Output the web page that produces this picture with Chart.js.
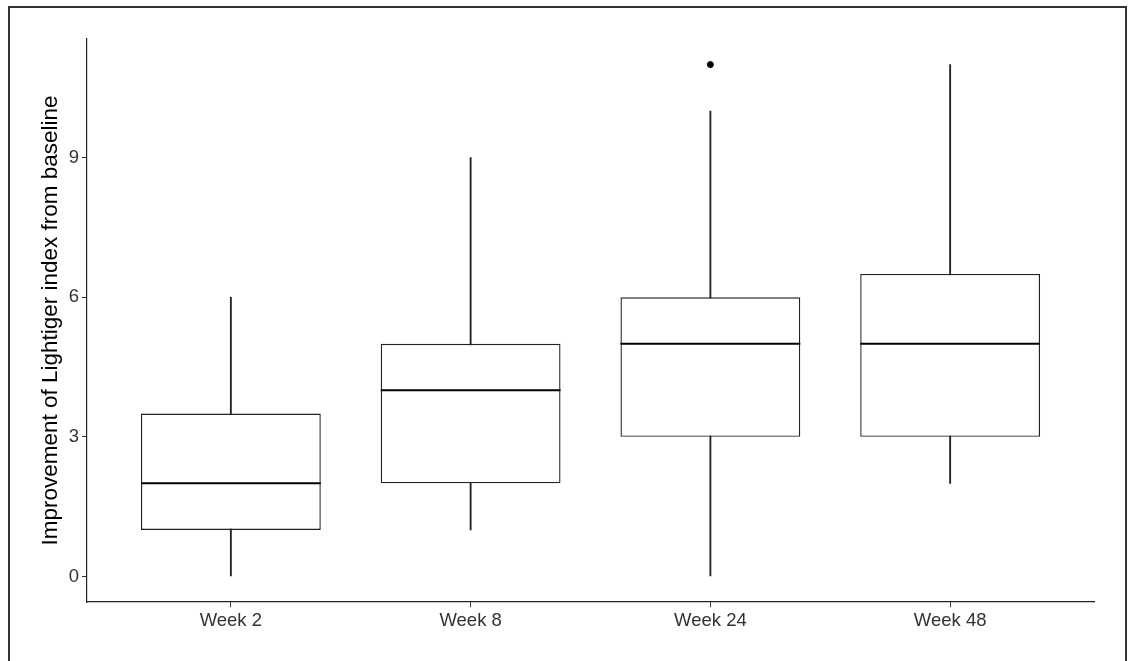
<!DOCTYPE html>
<html lang="en">

<head>
    <meta charset="UTF-8">
    <title>Lightiger index - boxplot</title>
    <script src="https://cdn.jsdelivr.net/npm/chart.js"></script>
    <style>
        body { margin: 0; background: #fff; }
        .quadro { position: relative; width: 1132px; height: 661px; overflow: hidden; }
        .moldura { position: absolute; left: 8px; top: 6px; width: 1115px; height: 700px; border: 2px solid #333; pointer-events: none; }
    </style>
</head>

<body>
    <div class="quadro">
        <canvas id="grafico" width="1132" height="661"></canvas>
        <div class="moldura"></div>
    </div>

<script>
// data
const categories = ['Week 2', 'Week 8', 'Week 24', 'Week 48'];
const whiskerLow = [0, 1, 0, 2];
const q1 = [1, 2, 3, 3];
const median = [2, 4, 5, 5];
const q3 = [3.5, 5, 6, 6.5];
const whiskerHigh = [6, 9, 10, 11];
const outlierPos = [3];      // category index (1-based)
const outlierVal = [11];
const yTicks = [0, 3, 6, 9];

const fonte = "'Liberation Sans', Arial, sans-serif";

// median line, drawn over the boxes
const medianas = {
    id: 'medianas',
    afterDatasetsDraw(chart) {
        const ctx = chart.ctx;
        const x = chart.scales.x, y = chart.scales.y;
        const caixas = chart.getDatasetMeta(1).data;
        ctx.save();
        ctx.strokeStyle = '#000';
        ctx.lineWidth = 2;
        for (let i = 0; i < categories.length; i++) {
            const cx = x.getPixelForValue(i + 1);
            const meia = caixas[i].width / 2;
            const py = y.getPixelForValue(median[i]);
            ctx.beginPath();
            ctx.moveTo(cx - meia, py);
            ctx.lineTo(cx + meia, py);
            ctx.stroke();
        }
        ctx.restore();
    }
};

new Chart(document.getElementById('grafico'), {
    type: 'bar',
    data: {
        datasets: [{
            // whiskers
            data: categories.map((c, i) => ({ x: i + 1, y: [whiskerLow[i], whiskerHigh[i]] })),
            backgroundColor: '#222',
            borderWidth: 0,
            barThickness: 1.2,
            grouped: false,
            order: 3
        }, {
            // boxes
            data: categories.map((c, i) => ({ x: i + 1, y: [q1[i], q3[i]] })),
            backgroundColor: '#fff',
            borderColor: '#222',
            borderWidth: 1.4,
            borderSkipped: false,
            barPercentage: 0.75,
            categoryPercentage: 1,
            grouped: false,
            order: 2
        }, {
            type: 'scatter',
            data: outlierPos.map((p, i) => ({ x: p, y: outlierVal[i] })),
            backgroundColor: '#000',
            borderColor: '#000',
            pointRadius: 3,
            order: 1
        }]
    },
    options: {
        responsive: false,
        animation: false,
        layout: { padding: { top: 39, right: 38, left: 0, bottom: 0 } },
        plugins: { legend: { display: false }, tooltip: { enabled: false } },
        scales: {
            x: {
                type: 'linear',
                min: 0.4,
                max: 4.6,
                offset: false,
                afterBuildTicks: s => { s.ticks = categories.map((c, i) => ({ value: i + 1 })); },
                afterFit: s => { s.height = 59; },
                ticks: {
                    callback: v => categories[v - 1],
                    color: '#333',
                    padding: 3,
                    maxRotation: 0,
                    font: { family: fonte, size: 18.5 }
                },
                grid: { offset: false, drawOnChartArea: false, drawTicks: true, tickLength: 5, color: '#333' },
                border: { display: true, color: '#222', width: 1.2 }
            },
            y: {
                min: -0.55,
                max: 11.55,
                afterBuildTicks: s => { s.ticks = yTicks.map(v => ({ value: v })); },
                afterFit: s => { s.width = 87; },
                ticks: {
                    color: '#333',
                    padding: 3,
                    font: { family: fonte, size: 18.5 }
                },
                grid: { drawOnChartArea: false, drawTicks: true, tickLength: 5, color: '#333' },
                border: { display: true, color: '#222', width: 1.2 },
                title: {
                    display: true,
                    text: 'Improvement of Lightiger index from baseline',
                    color: '#000',
                    padding: { top: 37, bottom: 0 },
                    font: { family: fonte, size: 22.5 }
                }
            }
        }
    },
    plugins: [medianas]
});
</script>
</body>

</html>
